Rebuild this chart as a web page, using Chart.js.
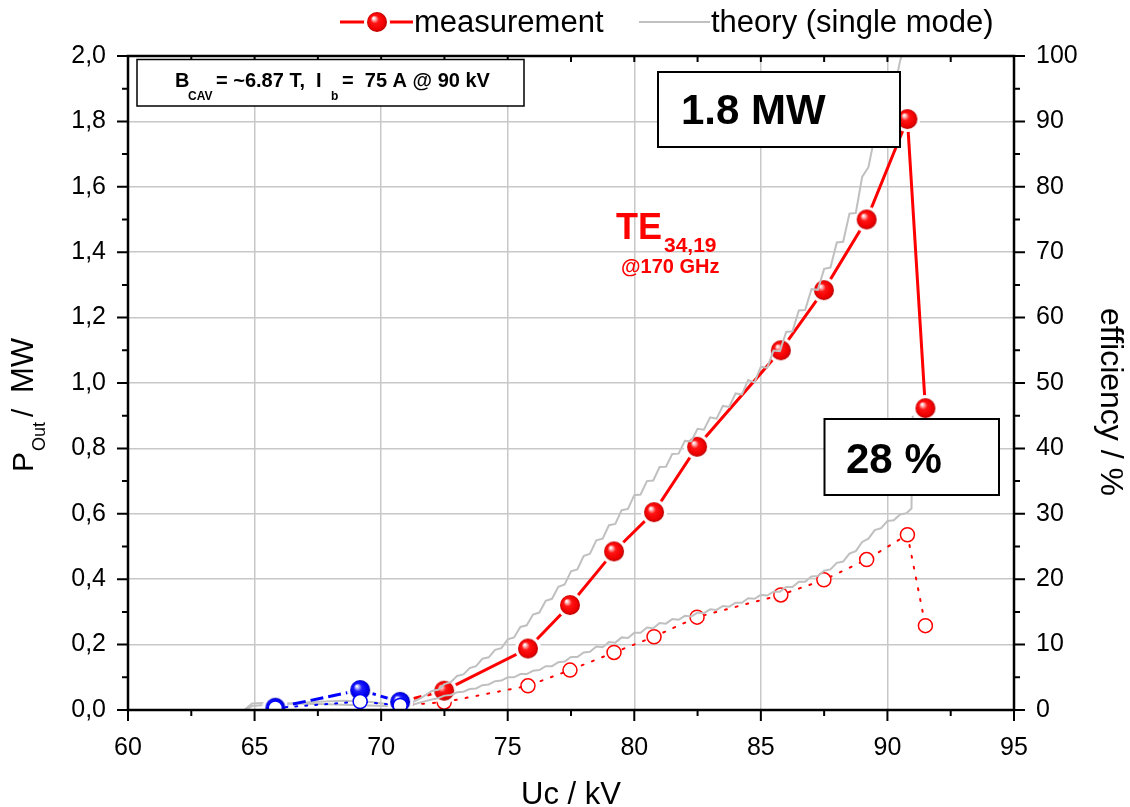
<!DOCTYPE html>
<html><head><meta charset="utf-8">
<script src="https://cdn.jsdelivr.net/npm/chart.js@4.4.1/dist/chart.umd.min.js"></script>
<style>html,body{margin:0;padding:0;background:#fff;}#wrap{width:1130px;height:807px;position:relative;}</style>
</head><body><div id="wrap"><canvas id="c" width="1130" height="807"></canvas></div>
<script>
// ---------- axes / ticks ----------
const xMajor = [60,65,70,75,80,85,90,95];
const xMinor = [62.5,67.5,72.5,77.5,82.5,87.5,92.5];
const pMajor = [0,0.2,0.4,0.6,0.8,1.0,1.2,1.4,1.6,1.8,2.0];
const pMinor = [0.1,0.3,0.5,0.7,0.9,1.1,1.3,1.5,1.7,1.9];
const effMajor = [0,10,20,30,40,50,60,70,80,90,100];
const effMinor = [5,15,25,35,45,55,65,75,85,95];

// ---------- measurement (TE34,19) ----------
const redU   = [70.75,72.49,75.80,77.46,79.20,80.78,82.48,85.79,87.49,89.18,90.79,91.50];
const redP   = [0.025,0.059,0.188,0.321,0.485,0.605,0.805,1.100,1.284,1.500,1.807,0.923];
const redEff = [0.7,1.2,3.7,6.1,8.8,11.2,14.2,17.6,19.9,23.0,26.8,12.9];

// ---------- measurement (blue, low voltage) ----------
const blueU   = [65.82,69.17,70.75];
const blueP   = [0.007,0.061,0.025];
const blueEff = [0.3,1.3,0.7];

// ---------- theory (single mode) ----------
const theoryU = [64.6,64.9,65.5,66.5,67.5,68.5,69.5,70.25,70.8,71.25,71.6,
 72.0,72.25,72.5,72.75,73.0,73.25,73.5,73.75,74.0,74.25,74.5,74.75,75.0,75.25,75.5,75.75,
 76.0,76.25,76.5,76.75,77.0,77.25,77.5,77.75,78.0,78.25,78.5,78.75,79.0,79.25,79.5,79.75,
 80.0,80.25,80.5,80.75,81.0,81.25,81.5,81.75,82.0,82.25,82.5,82.75,83.0,83.25,83.5,83.75,
 84.0,84.25,84.5,84.75,85.0,85.25,85.5,85.75,86.0,86.25,86.5,86.75,87.0,87.25,87.5,87.75,
 88.0,88.25,88.5,88.75,89.0,89.25,89.5,89.75,90.0,90.25,90.5,90.75];
const theoryP = [0,0.012,0.016,0.020,0.025,0.028,0.025,0.018,0.014,0.024,0.038,
 0.058,0.062,0.079,0.085,0.104,0.109,0.128,0.134,0.157,0.161,0.184,0.189,0.216,0.222,0.254,0.259,
 0.292,0.298,0.334,0.340,0.377,0.384,0.424,0.430,0.471,0.478,0.519,0.524,0.565,0.569,0.611,0.615,
 0.657,0.659,0.700,0.702,0.743,0.744,0.783,0.784,0.823,0.822,0.860,0.857,0.895,0.891,0.930,0.927,
 0.968,0.965,1.009,1.002,1.050,1.046,1.099,1.097,1.156,1.158,1.222,1.223,1.287,1.285,1.349,1.353,
 1.430,1.432,1.518,1.520,1.630,1.660,1.755,1.770,1.870,1.890,1.985,2.050];
const theoryEffU = [64.6,64.9,65.5,66.5,67.5,68.5,69.5,70.25,70.8,71.25,71.6,
 72.0,72.25,72.5,72.75,73.0,73.25,73.5,73.75,74.0,74.25,74.5,74.75,75.0,75.25,75.5,75.75,
 76.0,76.25,76.5,76.75,77.0,77.25,77.5,77.75,78.0,78.25,78.5,78.75,79.0,79.25,79.5,79.75,
 80.0,80.25,80.5,80.75,81.0,81.25,81.5,81.75,82.0,82.25,82.5,82.75,83.0,83.25,83.5,83.75,
 84.0,84.25,84.5,84.75,85.0,85.25,85.5,85.75,86.0,86.25,86.5,86.75,87.0,87.25,87.5,87.75,
 88.0,88.25,88.5,88.75,89.0,89.25,89.5,89.75,90.0,90.25,90.5,90.75,90.95,91.0];
const theoryEff = [0,1.0,1.1,1.0,0.9,0.8,0.7,0.6,0.5,0.8,1.2,
 1.6,1.8,2.2,2.3,2.7,2.8,3.2,3.3,3.8,3.9,4.4,4.5,5.0,5.0,5.5,5.5,
 6.0,6.1,6.7,6.7,7.3,7.4,8.1,8.1,8.8,8.9,9.7,9.6,10.4,10.3,11.1,11.0,
 11.8,11.8,12.6,12.5,13.3,13.2,13.9,13.8,14.4,14.3,14.9,14.8,15.4,15.3,15.9,15.8,
 16.4,16.4,17.1,17.0,17.6,17.5,18.1,18.1,18.8,18.8,19.6,19.6,20.4,20.5,21.3,21.5,
 22.5,22.7,23.9,24.3,25.7,26.2,27.5,27.8,28.9,29.0,29.9,30.1,30.8,45];

const FONT = "'Liberation Sans', Arial, Helvetica, sans-serif";
Chart.defaults.font.family = FONT;
Chart.defaults.color = '#000';

const RED = '#ff0000', BLUE = '#0000ff', GRAY = '#c0c0c0';

function makeBall(stops, r) {
  const ring = 3, size = 2 * (r + ring);
  const c = document.createElement('canvas');
  c.width = size; c.height = size;
  const g = c.getContext('2d');
  const cx = size / 2, cy = size / 2;
  g.fillStyle = '#fff';
  g.beginPath(); g.arc(cx, cy, r + ring, 0, Math.PI * 2); g.fill();
  const grad = g.createRadialGradient(cx - r * 0.35, cy - r * 0.4, r * 0.04, cx, cy, r);
  stops.forEach(s => grad.addColorStop(s[0], s[1]));
  g.fillStyle = grad;
  g.beginPath(); g.arc(cx, cy, r, 0, Math.PI * 2); g.fill();
  return c;
}
const redBall = makeBall([[0,'#ffffff'],[0.12,'#ffc4c4'],[0.38,'#ff1414'],[0.8,'#f00000'],[1,'#b80000']], 10);
const blueBall = makeBall([[0,'#ffffff'],[0.12,'#c4c4ff'],[0.38,'#1c1cff'],[0.8,'#0000f0'],[1,'#0000b0']], 10);

const pts = (xs, ys) => xs.map((v, i) => ({x: v, y: ys[i]}));

function text(ctx, s, x, y, size, bold, color, align) {
  ctx.font = (bold ? 'bold ' : '') + size + 'px ' + FONT;
  ctx.fillStyle = color || '#000';
  ctx.textAlign = align || 'left';
  ctx.textBaseline = 'alphabetic';
  ctx.fillText(s, x, y);
}
function box(ctx, x1, y1, x2, y2, lw) {
  ctx.fillStyle = '#fff';
  ctx.fillRect(x1, y1, x2 - x1, y2 - y1);
  ctx.strokeStyle = '#000'; ctx.lineWidth = lw;
  ctx.strokeRect(x1, y1, x2 - x1, y2 - y1);
}

const decor = {
  id: 'decor',
  afterDatasetsDraw(chart) {
    const {ctx, chartArea: a} = chart;
    const x = chart.scales.x, y = chart.scales.y, y2 = chart.scales.y2;
    ctx.save();
    // frame
    ctx.strokeStyle = '#000'; ctx.lineWidth = 2.5;
    ctx.strokeRect(a.left, a.top, a.right - a.left, a.bottom - a.top);
    ctx.lineWidth = 2;
    ctx.beginPath();
    xMajor.forEach(v => { const p = x.getPixelForValue(v);
      ctx.moveTo(p, a.bottom); ctx.lineTo(p, a.bottom + 11);
      ctx.moveTo(p, a.top); ctx.lineTo(p, a.top + 6); });
    xMinor.forEach(v => { const p = x.getPixelForValue(v);
      ctx.moveTo(p, a.bottom); ctx.lineTo(p, a.bottom + 6);
      ctx.moveTo(p, a.top); ctx.lineTo(p, a.top + 6); });
    pMajor.forEach(v => { const p = y.getPixelForValue(v);
      ctx.moveTo(a.left, p); ctx.lineTo(a.left - 11, p); });
    pMinor.forEach(v => { const p = y.getPixelForValue(v);
      ctx.moveTo(a.left, p); ctx.lineTo(a.left - 6, p); });
    effMajor.forEach(v => { const p = y2.getPixelForValue(v);
      ctx.moveTo(a.right, p); ctx.lineTo(a.right + 11, p); });
    effMinor.forEach(v => { const p = y2.getPixelForValue(v);
      ctx.moveTo(a.right, p); ctx.lineTo(a.right + 6, p); });
    ctx.stroke();

    // info box
    box(ctx, 137, 59.5, 524, 106, 1.5);
    text(ctx, 'B', 175, 87, 20, true);
    text(ctx, 'CAV', 188, 100, 12, true);
    text(ctx, '= ~6.87 T,  I', 216, 87, 20, true);
    text(ctx, 'b', 331, 100, 12, true);
    text(ctx, '=  75 A @ 90 kV', 342, 87, 20, true);

    // 1.8 MW box
    box(ctx, 658, 72, 900, 147, 2);
    text(ctx, '1.8 MW', 681, 124, 42, true);

    // 28 % box
    box(ctx, 824.5, 419, 999, 495, 2);
    text(ctx, '28 %', 846, 473, 42, true);

    // mode label
    text(ctx, 'TE', 616, 239, 36, true, RED);
    text(ctx, '34,19', 664, 252, 21, true, RED);
    text(ctx, '@170 GHz', 621, 273, 20, true, RED);
    ctx.restore();
  },
  afterDraw(chart) {
    const ctx = chart.ctx;
    ctx.save();
    // legend
    ctx.strokeStyle = RED; ctx.lineWidth = 3;
    ctx.beginPath(); ctx.moveTo(340, 22); ctx.lineTo(413, 22); ctx.stroke();
    ctx.drawImage(redBall, 377 - redBall.width / 2, 22 - redBall.height / 2);
    text(ctx, 'measurement', 414, 32, 31, false);
    ctx.strokeStyle = GRAY; ctx.lineWidth = 2;
    ctx.beginPath(); ctx.moveTo(639, 22); ctx.lineTo(710, 22); ctx.stroke();
    text(ctx, 'theory (single mode)', 711, 32, 31, false);

    // bottom title
    text(ctx, 'Uc / kV', 571, 804, 31, false, '#000', 'center');

    // left title (rotated)
    ctx.save();
    ctx.translate(33, 0); ctx.rotate(-Math.PI / 2);
    text(ctx, 'P', -472, 0, 30, false);
    text(ctx, 'Out', -451, 12, 18, false);
    text(ctx, '/', -417, 0, 30, false);
    text(ctx, 'MW', -393, 0, 31, false);
    ctx.restore();

    // right title (rotated)
    ctx.save();
    ctx.translate(1101, 402); ctx.rotate(Math.PI / 2);
    text(ctx, 'efficiency / %', 0, 0, 32, false, '#000', 'center');
    ctx.restore();
    ctx.restore();
  }
};

const gridStyle = {color: '#c8c8c8', lineWidth: 1.5, drawTicks: false};

new Chart(document.getElementById('c'), {
  type: 'line',
  data: {
    datasets: [
      { label: 'blueEff', data: pts(blueU, blueEff), yAxisID: 'y2',
        borderColor: BLUE, borderWidth: 2, borderDash: [2, 8], borderCapStyle: 'round',
        pointStyle: 'circle', pointRadius: 7, pointBorderWidth: 1.5,
        pointBorderColor: BLUE, pointBackgroundColor: '#fff', fill: false, tension: 0 },
      { label: 'bluePower', data: pts(blueU, blueP), yAxisID: 'y',
        borderColor: BLUE, borderWidth: 3, borderDash: [13, 5],
        pointStyle: blueBall, pointRadius: 10, fill: false, tension: 0 },
      { label: 'theoryPower', data: pts(theoryU, theoryP), yAxisID: 'y',
        borderColor: GRAY, borderWidth: 2, pointRadius: 0, fill: false, tension: 0 },
      { label: 'theoryEff', data: pts(theoryEffU, theoryEff), yAxisID: 'y2',
        borderColor: GRAY, borderWidth: 2, pointRadius: 0, fill: false, tension: 0 },
      { label: 'measurement', data: pts(redU, redP), yAxisID: 'y',
        borderColor: RED, borderWidth: 3,
        segment: { borderDash: c => c.p0DataIndex === 0 ? [8, 6] : [] },
        pointStyle: redBall, pointRadius: 10, fill: false, tension: 0 },
      { label: 'redEff', data: pts(redU, redEff), yAxisID: 'y2',
        borderColor: RED, borderWidth: 2, borderDash: [2, 9], borderCapStyle: 'round',
        pointStyle: 'circle', pointRadius: 7, pointBorderWidth: 1.5,
        pointBorderColor: RED, pointBackgroundColor: '#fff', fill: false, tension: 0 }
    ]
  },
  options: {
    responsive: false, animation: false, events: [],
    layout: { padding: { left: 0, right: 0, top: 56, bottom: 0 } },
    plugins: { legend: { display: false }, tooltip: { enabled: false } },
    scales: {
      x: { type: 'linear', min: 60, max: 95, grid: gridStyle, border: { display: false },
        afterBuildTicks: s => { s.ticks = xMajor.map(v => ({value: v})); },
        ticks: { font: { size: 25 }, color: '#000', padding: 23 },
        afterFit: s => { s.height = 97; } },
      y: { type: 'linear', position: 'left', min: 0, max: 2, grid: gridStyle, border: { display: false },
        afterBuildTicks: s => { s.ticks = pMajor.map(v => ({value: v})); },
        ticks: { font: { size: 25 }, color: '#000', padding: 22,
          callback: v => v.toFixed(1).replace('.', ',') },
        afterFit: s => { s.width = 128; } },
      y2: { type: 'linear', position: 'right', min: 0, max: 100,
        grid: { display: false, drawTicks: false }, border: { display: false },
        afterBuildTicks: s => { s.ticks = effMajor.map(v => ({value: v})); },
        ticks: { font: { size: 25 }, color: '#000', padding: 22 },
        afterFit: s => { s.width = 116; } }
    }
  },
  plugins: [decor]
});
</script>
</body></html>
